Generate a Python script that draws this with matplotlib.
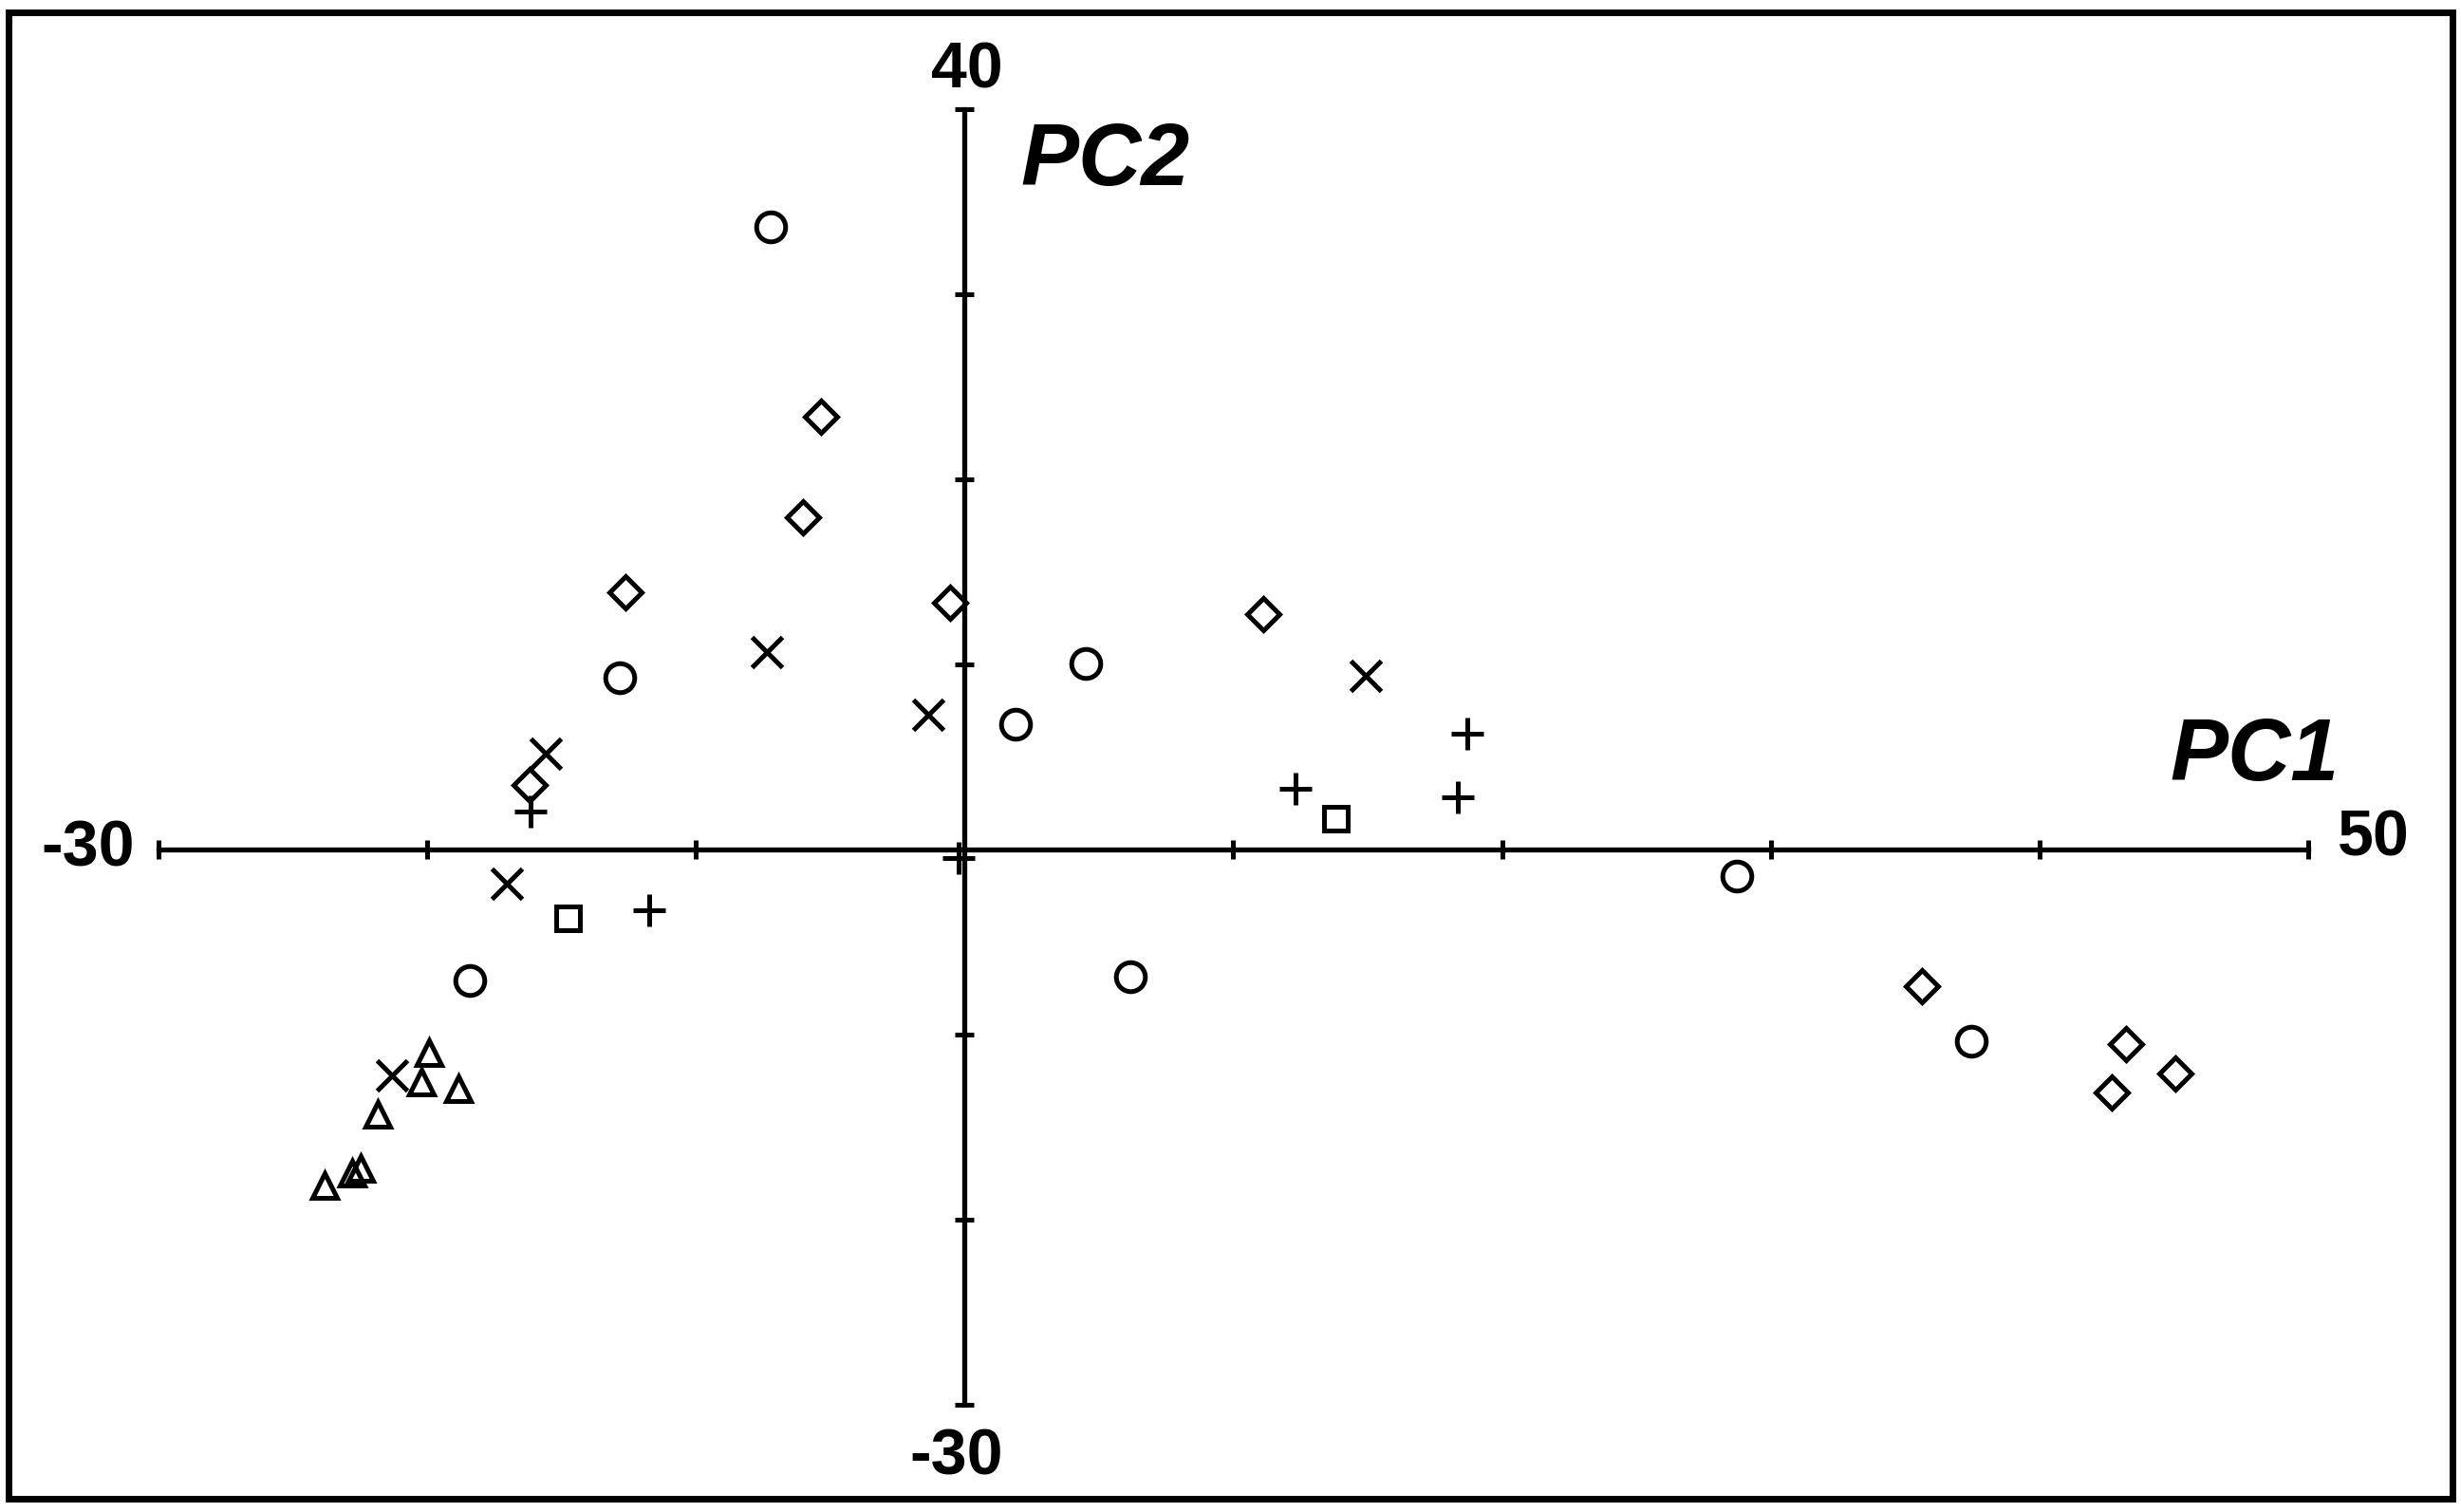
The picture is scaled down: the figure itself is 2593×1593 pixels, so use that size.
import matplotlib
matplotlib.use('Agg')
import matplotlib.pyplot as plt
from matplotlib.patches import Rectangle

plt.rcParams['font.family'] = ['Liberation Sans', 'DejaVu Sans']

# scores on the first two components, one group per marker
circle_x = [-7.23, -12.82, 1.88, 4.50, -18.41, 6.16, 28.73, 37.47]
circle_y = [33.63, 9.28, 6.75, 10.03, -7.09, -6.85, -1.45, -10.34]

diamond_x = [-5.34, -6.02, -12.61, -0.54, 11.11, -16.18, 35.64, 43.23, 45.06, 42.69]
diamond_y = [23.38, 17.95, 13.90, 13.33, 12.70, 3.50, -7.40, -10.51, -12.09, -13.11]

cross_x = [-7.35, -1.35, 14.91, -15.59, -17.04, -21.30]
cross_y = [10.65, 7.27, 9.40, 5.16, -1.85, -12.19]

plus_x = [-16.14, -11.73, -0.21, 12.32, 18.69, 18.35]
plus_y = [2.05, -3.30, -0.48, 3.28, 6.24, 2.82]

square_x = [-14.79, 13.79]
square_y = [-3.68, 1.71]

triangle_x = [-19.92, -20.23, -18.83, -21.85, -22.48, -22.80, -23.81]
triangle_y = [-10.99, -12.56, -12.94, -14.31, -17.23, -17.47, -18.15]

x_min, x_max = -30, 50
y_min, y_max = -30, 40
x_labels = ['-30', '50']
y_labels = ['-30', '40']
axis_names = ['PC1', 'PC2']

fig = plt.figure(figsize=(25.93, 15.93), dpi=100)
ax = fig.add_axes([0.0644, 0.07094, 0.87351, 0.85687])

mew = 3.6
common = dict(linestyle='none', mfc='none', mec='black', mew=mew, clip_on=False, zorder=3)
ax.plot(circle_x, circle_y, marker='o', ms=22, **common)
ax.plot(diamond_x, diamond_y, marker='D', ms=17.5, **common)
ax.plot(cross_x, cross_y, marker='x', ms=23, **common)
ax.plot(plus_x, plus_y, marker='+', ms=25, **common)
ax.plot(square_x, square_y, marker='s', ms=18, **common)
ax.plot(triangle_x, triangle_y, marker='^', ms=19, **common)

ax.set_xlim(x_min, x_max)
ax.set_ylim(y_min, y_max)
for side in ['top', 'right']:
    ax.spines[side].set_visible(False)
for side in ['left', 'bottom']:
    ax.spines[side].set_position(('data', 0))
    ax.spines[side].set_linewidth(3.8)
ax.set_xticks(range(x_min, x_max + 1, 10))
ax.set_yticks(range(y_min, y_max + 1, 10))
ax.tick_params(direction='inout', length=13.7, width=3.6,
               labelbottom=False, labelleft=False)
ax.patch.set_visible(False)

lab = dict(fontsize=49, fontweight='bold', textcoords='offset points')
ax.annotate(x_labels[0], (x_min, 0), xytext=(-18, 0), ha='right', va='center', **lab)
ax.annotate(x_labels[1], (x_max, 0), xytext=(22, 8), ha='left', va='center', **lab)
ax.annotate(y_labels[1], (0, y_max), xytext=(2, 16), ha='center', va='baseline', **lab)
ax.annotate(y_labels[0], (0, y_min), xytext=(-6, -17), ha='center', va='top', **lab)

name = dict(fontsize=66, fontweight='bold', fontstyle='italic')
ax.text(48.0, 3.74, axis_names[0], ha='center', va='baseline', **name)
ax.text(5.25, 35.9, axis_names[1], ha='center', va='baseline', **name)

fig.patches.append(Rectangle((0.00366, 0.0091), 0.99653 - 0.00366, 0.99184 - 0.0091,
                             transform=fig.transFigure, fill=False,
                             edgecolor='black', linewidth=5))

fig.savefig('out.png', dpi=100, facecolor='white')
